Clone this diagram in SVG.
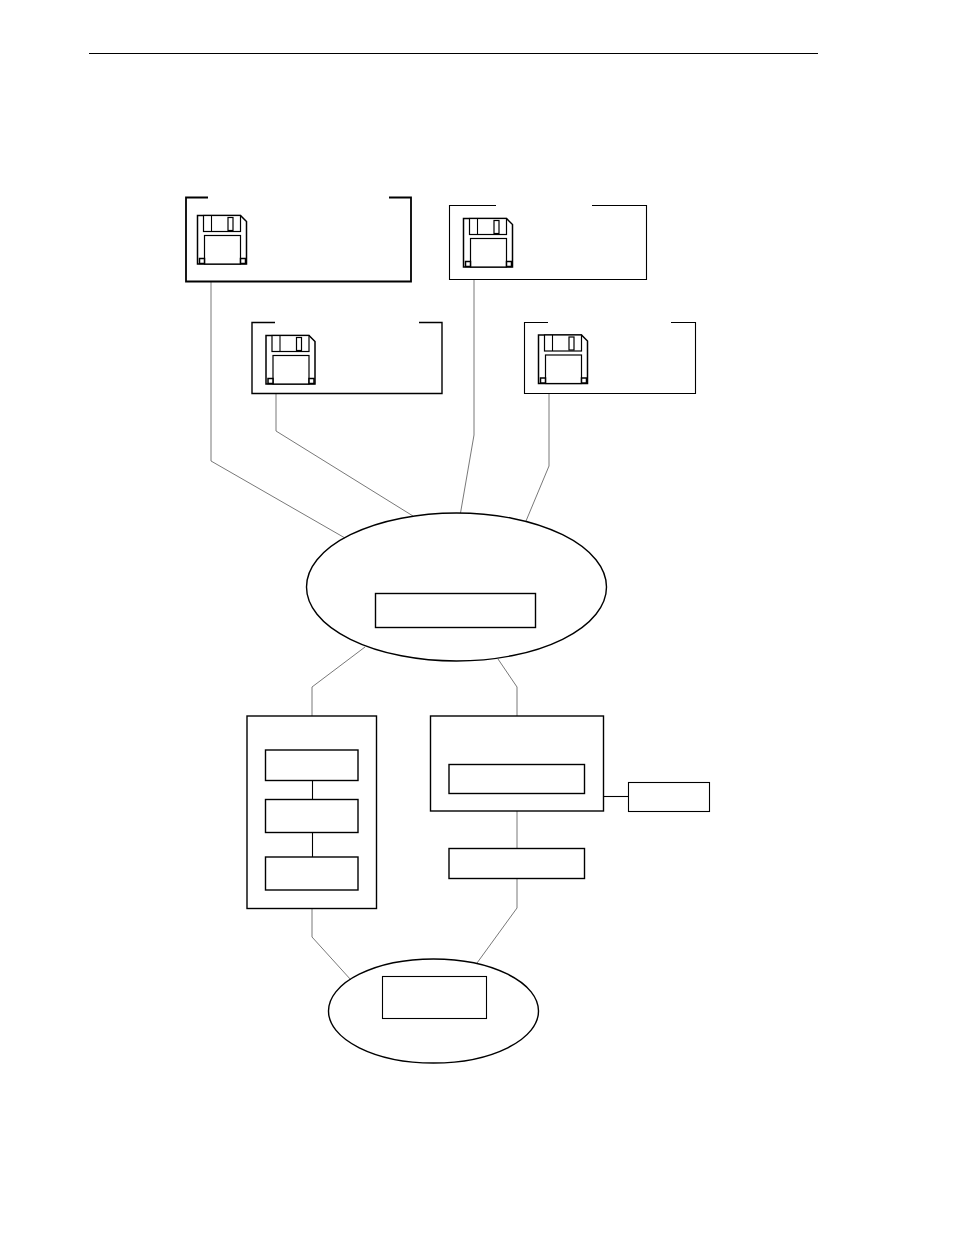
<svg xmlns="http://www.w3.org/2000/svg" width="954" height="1235" viewBox="0 0 954 1235">
<style>
.s{fill:none;stroke:#000;stroke-width:1.4}
.c{fill:none;stroke:#555;stroke-width:.8}
.k{fill:none;stroke:#000;stroke-width:1.1}
.d{fill:#fff;stroke:#000;stroke-width:1.2}
.o{fill:#fff;stroke:#000;stroke-width:1.5}
.q{fill:#fff;stroke:#000;stroke-width:1.5}
</style>
<defs>
<g id="floppy">
<path class="o" d="M0.500 0.500H43.500L49.500 6.500V49H0.500Z"/>
<rect class="d" x="6.500" y="0.500" width="37" height="16"/>
<line class="k" x1="14.500" y1="0.500" x2="14.500" y2="16.500"/>
<rect class="d" x="31" y="2.500" width="5" height="13"/>
<rect class="d" x="7.500" y="20.500" width="36" height="28.500"/>
<rect class="q" x="2.500" y="43.500" width="5" height="5"/>
<rect class="q" x="43.500" y="43.500" width="5" height="5"/>
</g>
</defs>
<line x1="89" y1="53.500" x2="818" y2="53.500" stroke="#000" stroke-width="1"/>
<g id="connectors">
<polyline class="c" points="211,282 211,461 345,538"/>
<polyline class="c" points="276,394 276,431 413,516"/>
<polyline class="c" points="474,280 474,435 460.500,513"/>
<polyline class="c" points="549,394 549,466 526,521"/>
<polyline class="c" points="365,647 312,687 312,716"/>
<polyline class="c" points="498,659 517,687 517,716"/>
<line class="c" x1="517" y1="811" x2="517" y2="848"/>
<polyline class="c" points="517,879 517,908 477,963"/>
<polyline class="c" points="312,909 312,937 351,980"/>
<line class="k" x1="312.500" y1="780" x2="312.500" y2="799"/>
<line class="k" x1="312.500" y1="832" x2="312.500" y2="857"/>
<line class="k" x1="604" y1="796.500" x2="628" y2="796.500"/>
</g>
<g id="disk-1">
<path class="s" style="stroke-width:1.800" d="M208 197.500H186V281.500H411V197.500H389"/>
<use href="#floppy" x="197" y="215"/>
</g>
<g id="disk-2">
<path class="s" d="M275 322.500H252V393.500H442V322.500H419"/>
<use href="#floppy" x="265.500" y="335"/>
</g>
<g id="disk-3">
<path class="k" d="M496 205.500H449.500V279.500H646.500V205.500H592"/>
<use href="#floppy" x="463" y="218"/>
</g>
<g id="disk-4">
<path class="k" d="M548 322.500H524.500V393.500H695.500V322.500H671"/>
<use href="#floppy" x="538" y="334.500"/>
</g>
<g id="hub">
<ellipse class="s" cx="456.500" cy="587" rx="150" ry="74"/>
<rect class="s" x="375.500" y="593.500" width="160" height="34"/>
</g>
<g id="left-box">
<rect class="s" x="247" y="716" width="129.500" height="192.500"/>
<rect class="s" x="265.500" y="750" width="92.500" height="30.500"/>
<rect class="s" x="265.500" y="799.500" width="92.500" height="33"/>
<rect class="s" x="265.500" y="857" width="92.500" height="33"/>
</g>
<g id="right-box">
<rect class="s" x="430.500" y="716" width="173" height="95"/>
<rect class="s" x="449" y="764.500" width="135.500" height="29"/>
</g>
<g id="side-box"><rect class="k" x="628.500" y="782.500" width="81" height="29"/></g>
<g id="mid-box"><rect class="s" x="449" y="848.500" width="135.500" height="30"/></g>
<g id="bottom-hub">
<ellipse class="s" cx="433.500" cy="1011" rx="105" ry="52"/>
<rect class="k" x="382.500" y="976.500" width="104" height="42"/>
</g>
</svg>
